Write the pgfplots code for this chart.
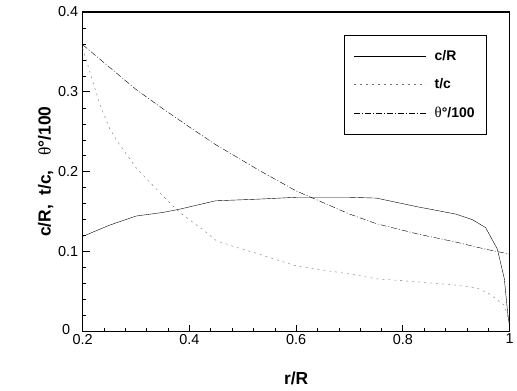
\documentclass[border=0pt]{standalone}
\usepackage{fontspec}
\setmainfont{Liberation Sans}
\newfontfamily\serifgr{Liberation Serif}
\usepackage{pgfplots}
\pgfplotsset{compat=1.18}
\begin{document}
\begin{tikzpicture}
\path (-83pt,-59pt) rectangle (434pt,333pt);
\begin{axis}[
  scale only axis,
  width=429pt, height=321pt,
  xmin=0.2, xmax=1, ymin=0, ymax=0.4,
  xtick={0.2,0.4,0.6,0.8,1},
  xticklabels={0.2,0.4,0.6,0.8,1},
  ytick={0,0.1,0.2,0.3,0.4},
  yticklabels={,0.1,0.2,0.3,0.4},
  minor x tick num=4,
  minor y tick num=4,
  tick align=inside,
  major tick length=7pt,
  minor tick length=3.5pt,
  xtick pos=bottom, ytick pos=left,
  axis line style={line width=1.2pt},
  every tick/.style={black, line width=1pt},
  minor tick style={line width=0.5pt, black},
  tick label style={font=\fontsize{14.5}{16}\selectfont},
  xticklabel style={yshift=1pt},
  yticklabel style={xshift=-1pt},
  xlabel={\bfseries r/R},
  ylabel={\bfseries c/R,\ \ t/c,\ \ \ {\serifgr\mdseries θ}°/100},
  label style={font=\fontsize{17.5}{20}\selectfont},
  xlabel style={yshift=-21pt},
  ylabel style={yshift=-2pt},
  legend cell align=left,
  legend style={draw=black, thin, at={(0.611,0.928)}, anchor=north west,
    font=\bfseries\fontsize{14}{16}\selectfont, row sep=13pt,
    inner xsep=10pt, inner ysep=13pt},
  legend image code/.code={\draw[#1] (0pt,0pt) -- (72pt,0pt); \path (79pt,0pt);},
  clip=false,
]
\addplot[black, thin] coordinates {
(0.2,0.119)(0.25,0.133)(0.3,0.1445)(0.35,0.149)(0.381,0.153)(0.449,0.1636)(0.53,0.1657)
(0.6,0.168)(0.7,0.168)(0.75,0.167)(0.828,0.156)(0.899,0.147)(0.93,0.140)(0.955,0.130)
(0.977,0.103)(0.99,0.066)(0.996,0.025)(1.0,0.005)};
\addlegendentry{c/R}
\addplot[black!55, thin, dash pattern=on 2pt off 4pt] coordinates {
(0.2,0.355)(0.213,0.326)(0.232,0.285)(0.25,0.255)(0.263,0.240)(0.3,0.205)(0.35,0.170)
(0.38,0.150)(0.424,0.128)(0.45,0.114)(0.48,0.107)(0.53,0.097)(0.6,0.082)(0.7,0.072)
(0.75,0.066)(0.83,0.062)(0.9,0.058)(0.94,0.054)(0.962,0.047)(0.99,0.033)(1.0,0.01)};
\addlegendentry{t/c}
\addplot[black, thin, dash pattern=on 6pt off 2pt on 1pt off 2pt] coordinates {
(0.2,0.359)(0.25,0.331)(0.3,0.303)(0.35,0.279)(0.4,0.256)(0.449,0.234)(0.53,0.202)
(0.6,0.176)(0.7,0.147)(0.75,0.135)(0.828,0.122)(0.899,0.112)(0.955,0.103)(1.0,0.097)};
\addlegendentry{{\serifgr\mdseries\fontsize{15}{17}\selectfont θ}°/100}
\end{axis}
\node[font=\fontsize{14.5}{16}\selectfont, anchor=east] at (-9pt,2pt) {0};
\end{tikzpicture}
\end{document}
